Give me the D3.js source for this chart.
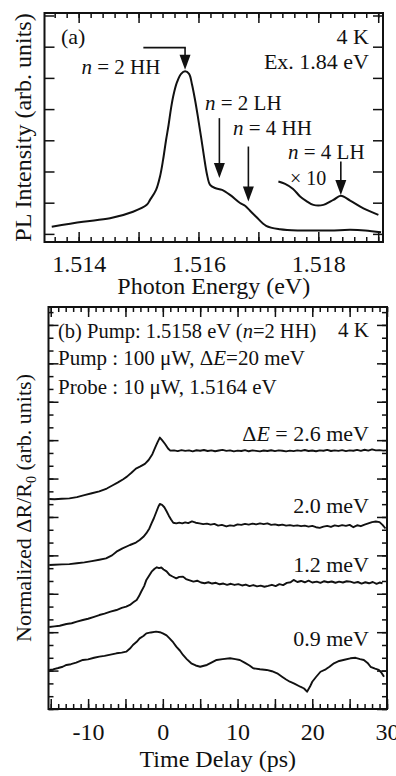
<!DOCTYPE html>
<html>
<head>
<meta charset="utf-8">
<script src="https://cdn.jsdelivr.net/npm/d3@7"></script>
<style>
  html, body { margin: 0; padding: 0; background: #fff; }
  svg { display: block; }
  text { font-family: "Liberation Serif", "Times New Roman", serif; fill: #111; }
</style>
</head>
<body>
<div id="chart"></div>
<script>
// ---- panel (a): PL spectrum, [photon energy eV, intensity] ----
const plSpectrum = [
  [1.513551, 0.23], [1.514073, 0.39], [1.514524, 0.50], [1.514908, 0.71], [1.515137, 0.93],
  [1.515192, 1.09], [1.515292, 1.41], [1.515359, 1.85], [1.515409, 2.37], [1.515459, 3.01],
  [1.515501, 3.49], [1.515543, 4.04], [1.515584, 4.46], [1.515643, 4.87], [1.515710, 5.13],
  [1.515776, 5.21], [1.515843, 5.13], [1.515893, 4.78], [1.515943, 4.29], [1.515993, 3.72],
  [1.516043, 3.11], [1.516093, 2.47], [1.516144, 1.89], [1.516194, 1.57], [1.516277, 1.47],
  [1.516394, 1.41], [1.516527, 1.25], [1.516694, 0.99], [1.516778, 0.90], [1.516861, 0.74],
  [1.516962, 0.55], [1.517129, 0.26], [1.517362, 0.15], [1.517696, 0.11], [1.518197, 0.11],
  [1.518531, 0.13], [1.518781, 0.11], [1.519048, 0.05]
];
// x10 magnified tail
const plTimes10 = [
  [1.517334, 1.68], [1.517446, 1.60], [1.517579, 1.44], [1.517696, 1.20], [1.517796, 1.06],
  [1.517918, 0.93], [1.518085, 0.93], [1.518252, 1.09], [1.518376, 1.22], [1.518531, 1.07],
  [1.518753, 0.82], [1.519003, 0.61]
];
const energyTickLabels = [1.514, 1.516, 1.518];
const intensityTicks = [0, 1, 2, 3, 4, 5, 6, 7];

// arrow markers: label, energy, from, to (intensity units)
const plMarkers = [
  { label: "2 HH", e: 1.515776, from: 5.97, to: 5.26, hFrom: 1.51508 },
  { label: "2 LH", e: 1.516349, from: 3.71, to: 1.79 },
  { label: "4 HH", e: 1.516833, from: 2.80, to: 1.04 },
  { label: "4 LH", e: 1.518376, from: 2.32, to: 1.25 }
];

// ---- panel (b): pump-probe traces, [delay ps, offset dR/R0] ----
const trace26 = [
  [-15.2,16.40],[-14.5,16.38],[-13.5,16.42],[-12.5,16.45],[-11.5,16.55],[-10.5,16.70],[-9.5,16.85],
  [-8.5,17.00],[-7.5,17.22],[-6.7,17.48],[-6.0,17.70],[-5.3,17.95],[-4.8,18.15],[-4.2,18.45],
  [-3.6,18.78],[-3.0,18.95],[-2.4,19.15],[-1.9,19.45],[-1.4,19.90],[-1.0,20.45],[-0.7,20.85],
  [-0.4,21.20],[-0.1,21.00],[0.3,20.70],[0.7,20.35],[1.0,20.18],[1.5,20.20],[2.0,20.14],[2.5,20.22],
  [3.0,20.16],[3.5,20.20],[4.0,20.12],[4.5,20.21],[5.0,20.17],[5.5,20.23],[6.0,20.15],[6.5,20.20],
  [7.0,20.13],[7.5,20.19],[8.0,20.24],[8.5,20.16],[9.0,20.20],[9.5,20.12],[10.0,20.18],[10.5,20.15],
  [11.0,20.22],[11.5,20.13],[12.0,20.20],[12.5,20.16],[13.0,20.12],[13.5,20.19],[14.0,20.15],
  [14.5,20.21],[15.0,20.14],[15.5,20.20],[16.0,20.17],[16.5,20.12],[17.0,20.18],[17.5,20.14],
  [18.0,20.20],[18.5,20.16],[19.0,20.23],[19.5,20.15],[20.0,20.19],[20.5,20.13],[21.0,20.20],
  [21.5,20.17],[22.0,20.24],[22.5,20.15],[23.0,20.20],[23.5,20.16],[24.0,20.22],[24.5,20.14],
  [25.0,20.20],[25.5,20.17],[26.0,20.24],[26.5,20.16],[27.0,20.25],[27.5,20.18],[28.0,20.28],
  [28.5,20.20],[29.0,20.22],[29.5,20.18],[30.0,20.20]
];
const trace20 = [
  [-15.2,11.25],[-14.5,11.27],[-13.5,11.30],[-12.5,11.32],[-11.5,11.38],[-10.5,11.45],[-9.5,11.55],
  [-8.5,11.66],[-7.6,11.77],[-6.8,12.00],[-6.2,12.29],[-5.4,12.55],[-4.4,12.81],[-3.6,13.00],
  [-3.1,13.20],[-2.6,13.45],[-2.2,13.73],[-1.8,14.10],[-1.5,14.51],[-1.2,14.90],[-0.9,15.35],
  [-0.6,15.80],[-0.4,16.02],[-0.1,15.95],[0.2,15.76],[0.5,15.45],[0.8,15.10],[1.1,14.80],[1.4,14.55],
  [1.8,14.50],[2.2,14.56],[2.6,14.50],[3.0,14.58],[3.4,14.52],[3.9,14.65],[4.4,14.55],[4.9,14.50],
  [5.4,14.44],[5.9,14.48],[6.4,14.40],[6.9,14.46],[7.4,14.32],[7.9,14.38],[8.5,14.26],[9.0,14.34],
  [9.5,14.30],[10.0,14.42],[10.5,14.38],[11.0,14.46],[11.5,14.40],[12.0,14.48],[12.5,14.42],
  [13.0,14.50],[13.5,14.44],[14.0,14.50],[14.5,14.38],[15.0,14.42],[15.5,14.35],[16.0,14.40],
  [16.5,14.32],[17.0,14.36],[17.5,14.30],[18.0,14.34],[18.5,14.28],[19.0,14.32],[19.5,14.25],
  [20.0,14.30],[20.5,14.20],[21.0,14.15],[21.5,14.24],[22.0,14.30],[22.5,14.22],[23.0,14.34],
  [23.5,14.28],[24.0,14.36],[24.5,14.30],[25.0,14.38],[25.5,14.20],[26.0,14.35],[26.5,14.28],
  [27.0,14.40],[27.5,14.50],[28.0,14.60],[28.5,14.65],[29.0,14.60],[29.4,14.38],[29.8,14.10]
];
const trace12 = [
  [-15.2,6.40],[-14.5,6.45],[-13.8,6.50],[-12.9,6.64],[-12.2,6.70],[-11.5,6.82],[-10.7,6.95],
  [-10.0,7.05],[-9.2,7.20],[-8.5,7.34],[-7.8,7.45],[-7.0,7.60],[-6.2,7.73],[-5.5,7.90],[-4.9,8.00],
  [-4.4,8.13],[-3.9,8.35],[-3.5,8.52],[-3.2,8.80],[-2.9,9.16],[-2.5,9.60],[-2.2,10.08],[-1.8,10.45],
  [-1.5,10.73],[-1.1,10.95],[-0.8,11.07],[-0.5,11.00],[-0.2,11.05],[0.1,10.90],[0.5,10.75],
  [0.9,10.47],[1.3,10.35],[1.8,10.21],[2.2,10.32],[2.7,10.34],[3.1,10.15],[3.6,10.05],[4.1,9.95],
  [4.6,10.02],[5.1,9.88],[5.6,9.82],[6.1,9.90],[6.6,9.80],[7.1,9.86],[7.6,9.74],[8.1,9.80],
  [8.6,9.70],[9.1,9.78],[9.6,9.69],[10.1,9.75],[10.6,9.65],[11.1,9.72],[11.6,9.60],[12.1,9.68],
  [12.6,9.58],[13.1,9.64],[13.6,9.55],[14.1,9.62],[14.6,9.70],[15.1,9.60],[15.6,9.75],[16.1,9.68],
  [16.6,9.85],[17.1,9.90],[17.5,10.08],[18.0,9.92],[18.5,10.00],[19.0,9.90],[19.5,10.02],
  [20.0,9.88],[20.6,9.95],[21.1,9.85],[21.6,9.98],[22.1,9.90],[22.6,9.96],[23.1,9.86],[23.6,9.95],
  [24.1,9.88],[24.6,9.98],[25.1,9.95],[25.6,9.85],[26.1,9.92],[26.6,9.80],[27.1,9.90],[27.6,9.82],
  [28.1,9.92],[28.6,9.78],[29.0,9.88],[29.4,9.82]
];
const trace09 = [
  [-15.2,3.05],[-14.7,3.10],[-14.0,3.20],[-13.4,3.30],[-12.9,3.44],[-12.3,3.50],[-11.6,3.62],
  [-10.7,3.83],[-10.0,3.88],[-9.2,4.00],[-8.5,4.09],[-7.8,4.15],[-7.0,4.25],[-6.2,4.35],[-5.5,4.40],
  [-4.9,4.48],[-4.4,4.72],[-4.0,5.00],[-3.5,5.25],[-3.1,5.52],[-2.6,5.70],[-2.2,5.91],[-1.6,5.98],
  [-0.9,6.04],[-0.4,6.00],[0.0,5.91],[0.5,5.75],[0.9,5.52],[1.4,5.20],[1.8,4.87],[2.3,4.55],
  [2.7,4.22],[3.2,3.90],[3.8,3.57],[4.4,3.40],[5.0,3.30],[5.5,3.38],[5.9,3.44],[6.5,3.62],
  [7.2,3.83],[8.0,3.90],[9.0,3.96],[9.7,3.90],[10.3,3.83],[11.0,3.60],[11.6,3.40],[12.1,3.18],
  [13.0,3.10],[13.9,3.05],[14.6,2.95],[15.3,2.79],[16.0,2.50],[16.5,2.30],[17.0,2.13],[17.6,1.98],
  [18.4,1.74],[18.9,1.60],[19.3,1.35],[19.7,1.75],[20.0,2.13],[20.5,2.50],[21.1,2.91],[21.8,3.10],
  [22.3,3.30],[22.9,3.57],[23.6,3.75],[24.3,3.85],[25.1,3.96],[25.8,4.00],[26.4,3.90],[26.9,3.83],
  [27.4,3.60],[27.8,3.30],[28.4,3.15],[28.9,3.05],[29.3,2.80],[29.6,2.52]
];
const traceNames = ["2.6 meV", "2.0 meV", "1.2 meV", "0.9 meV"];
const traceLabelY = [20.9, 15.3, 10.7, 4.9];
const delayTickLabels = [-10, 0, 10, 20, 30];

const W = 396, H = 776;
const INK = "#111";
const svg = d3.select("#chart").append("svg").attr("width", W).attr("height", H);

// helper: inward ticks using d3 axes
function frameAxes(g, x, y, box, o) {
  const add = (axis, tf) => {
    const a = g.append("g").attr("transform", tf).call(axis);
    a.select(".domain").remove();
    a.selectAll("line").attr("stroke", INK).attr("stroke-width", 1.5);
    a.selectAll("text").remove();
  };
  const B = `translate(0,${box.y1})`, T = `translate(0,${box.y0})`;
  const L = `translate(${box.x0},0)`, R = `translate(${box.x1},0)`;
  add(d3.axisBottom(x).tickValues(o.xMinor).tickSize(-5), B);
  add(d3.axisBottom(x).tickValues(o.xMajor).tickSize(-10), B);
  add(d3.axisTop(x).tickValues(o.xMinor).tickSize(-5), T);
  add(d3.axisTop(x).tickValues(o.xMajor).tickSize(-10), T);
  if (o.yMinor) {
    add(d3.axisLeft(y).tickValues(o.yMinor).tickSize(-5), L);
    add(d3.axisRight(y).tickValues(o.yMinor).tickSize(-5), R);
  }
  add(d3.axisLeft(y).tickValues(o.yMajor).tickSize(-10), L);
  add(d3.axisRight(y).tickValues(o.yMajor).tickSize(-10), R);
  g.append("rect")
    .attr("x", box.x0).attr("y", box.y0)
    .attr("width", box.x1 - box.x0).attr("height", box.y1 - box.y0)
    .attr("fill", "none").attr("stroke", INK).attr("stroke-width", 2);
}

// ======================= panel (a) =======================
const boxA = { x0: 44.5, x1: 383, y0: 13, y1: 242 };
const xa = d3.scaleLinear().domain([1.51343, 1.51908]).range([boxA.x0, boxA.x1]);
const ya = d3.scaleLinear().domain([-0.26, 7.08]).range([boxA.y1, boxA.y0]);
const gA = svg.append("g");

const aMinor = d3.range(0, 28).map(i => +(1.5136 + i * 0.0002).toFixed(4)).filter(v => v < 1.51908);
frameAxes(gA, xa, ya, boxA, {
  xMinor: aMinor, xMajor: [1.514, 1.515, 1.516, 1.517, 1.518, 1.519],
  yMajor: intensityTicks
});

const lineA = d3.line().x(d => xa(d[0])).y(d => ya(d[1])).curve(d3.curveCatmullRom.alpha(0.5));
gA.append("path").datum(plSpectrum).attr("d", lineA)
  .attr("fill", "none").attr("stroke", INK).attr("stroke-width", 2);
gA.append("path").datum(plTimes10).attr("d", lineA)
  .attr("fill", "none").attr("stroke", INK).attr("stroke-width", 2);

// arrows
function arrow(g, x, y1, y2, headLen, headW) {
  g.append("line").attr("x1", x).attr("x2", x).attr("y1", y1).attr("y2", y2 - headLen + 1)
    .attr("stroke", INK).attr("stroke-width", 1.6);
  g.append("path")
    .attr("d", `M${x - headW / 2},${y2 - headLen} L${x + headW / 2},${y2 - headLen} L${x},${y2} Z`)
    .attr("fill", INK);
}
plMarkers.forEach(m => {
  const px = xa(m.e);
  if (m.hFrom) {
    gA.append("line").attr("x1", xa(m.hFrom)).attr("x2", px + 0.8)
      .attr("y1", ya(m.from)).attr("y2", ya(m.from))
      .attr("stroke", INK).attr("stroke-width", 1.6);
  }
  arrow(gA, px, ya(m.from), ya(m.to), 15, 11);
});

// annotation text, panel (a)
function nLabel(g, x, y, rest, size) {
  const t = g.append("text").attr("x", x).attr("y", y).attr("font-size", size);
  t.append("tspan").attr("font-style", "italic").text("n");
  t.append("tspan").text(" = " + rest);
  return t;
}
nLabel(gA, 81.5, 74, plMarkers[0].label, 21);
nLabel(gA, 205, 109.5, plMarkers[1].label, 21);
nLabel(gA, 233, 135, plMarkers[2].label, 21);
nLabel(gA, 288, 158.5, plMarkers[3].label, 21);
gA.append("text").attr("x", 290).attr("y", 185).attr("font-size", 20).text("× 10");
gA.append("text").attr("x", 61).attr("y", 43.5).attr("font-size", 22).text("(a)");
gA.append("text").attr("x", 369).attr("y", 43.5).attr("font-size", 22).attr("text-anchor", "end").text("4 K");
gA.append("text").attr("x", 369).attr("y", 68.5).attr("font-size", 22).attr("text-anchor", "end").text("Ex. 1.84 eV");

// tick labels + titles
const xaLabels = gA.append("g").attr("transform", `translate(0,${boxA.y1})`)
  .call(d3.axisBottom(xa).tickValues(energyTickLabels).tickSize(0).tickPadding(0).tickFormat(d3.format(".3f")));
xaLabels.select(".domain").remove();
xaLabels.selectAll("text").attr("font-size", 24).attr("fill", INK).attr("dy", null).attr("y", 29.5);
xaLabels.attr("font-family", null);
gA.append("text").attr("x", (boxA.x0 + boxA.x1) / 2).attr("y", 293.5)
  .attr("text-anchor", "middle").attr("font-size", 24).text("Photon Energy (eV)");
gA.append("text").attr("transform", `translate(31,${(boxA.y0 + boxA.y1) / 2}) rotate(-90)`)
  .attr("text-anchor", "middle").attr("font-size", 24).text("PL Intensity (arb. units)");

// ======================= panel (b) =======================
const boxB = { x0: 48.5, x1: 387, y0: 307, y1: 709 };
const xb = d3.scaleLinear().domain([-15.3, 30]).range([boxB.x0, boxB.x1]);
const yb = d3.scaleLinear().domain([0, 31.4]).range([boxB.y1, boxB.y0]);
const gB = svg.append("g");

frameAxes(gB, xb, yb, boxB, {
  xMinor: d3.range(-15, 31, 1), xMajor: d3.range(-15, 31, 5),
  yMinor: d3.range(0, 32, 1), yMajor: d3.range(0, 32, 3)
});

const lineB = d3.line().x(d => xb(d[0])).y(d => yb(d[1]));
[trace26, trace20, trace12, trace09].forEach(tr => {
  gB.append("path").datum(tr).attr("d", lineB)
    .attr("fill", "none").attr("stroke", INK).attr("stroke-width", 1.9)
    .attr("stroke-linejoin", "round");
});

// trace labels
traceNames.forEach((name, i) => {
  const t = gB.append("text").attr("x", 369).attr("y", yb(traceLabelY[i]))
    .attr("font-size", 22).attr("text-anchor", "end");
  if (i === 0) {
    t.append("tspan").text("Δ");
    t.append("tspan").attr("font-style", "italic").text("E");
    t.append("tspan").text(" = " + name);
  } else {
    t.text(name);
  }
});

// header text, panel (b)
const h1 = gB.append("text").attr("x", 58).attr("y", 338).attr("font-size", 20.5);
h1.append("tspan").text("(b) Pump: 1.5158 eV (");
h1.append("tspan").attr("font-style", "italic").text("n");
h1.append("tspan").text("=2 HH)");
gB.append("text").attr("x", 369).attr("y", 336.5).attr("font-size", 21)
  .attr("text-anchor", "end").text("4 K");
const h2 = gB.append("text").attr("x", 58).attr("y", 365).attr("font-size", 21);
h2.append("tspan").text("Pump : 100 μW, Δ");
h2.append("tspan").attr("font-style", "italic").text("E");
h2.append("tspan").text("=20 meV");
gB.append("text").attr("x", 58).attr("y", 393.5).attr("font-size", 21)
  .text("Probe : 10 μW, 1.5164 eV");

// tick labels + titles
const xbLabels = gB.append("g").attr("transform", `translate(0,${boxB.y1})`)
  .call(d3.axisBottom(xb).tickValues(delayTickLabels).tickSize(0).tickPadding(0));
xbLabels.select(".domain").remove();
xbLabels.selectAll("text").attr("font-size", 24).attr("fill", INK).attr("dy", null).attr("y", 31)
  .text(d => d < 0 ? "-" + Math.abs(d) : d);
xbLabels.attr("font-family", null);
gB.append("text").attr("x", (boxB.x0 + boxB.x1) / 2).attr("y", 767)
  .attr("text-anchor", "middle").attr("font-size", 24).text("Time Delay (ps)");
const yl = gB.append("text").attr("transform", `translate(31,${(boxB.y0 + boxB.y1) / 2}) rotate(-90)`)
  .attr("text-anchor", "middle").attr("font-size", 22);
yl.append("tspan").text("Normalized ΔR/R");
yl.append("tspan").attr("font-size", 14).attr("dy", 5).text("0");
yl.append("tspan").attr("dy", -5).text(" (arb. units)");
</script>
</body>
</html>
